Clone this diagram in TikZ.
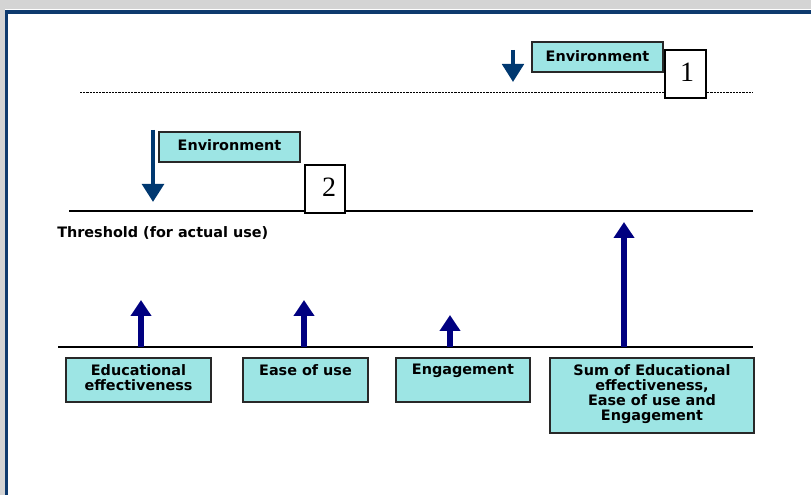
\documentclass[tikz,border=0pt]{standalone}
\usepackage{fontspec}
\setsansfont{DejaVu Sans}
\newfontfamily\numfont{Liberation Serif}
\usetikzlibrary{arrows.meta,fit}

\definecolor{boxfill}{RGB}{157,229,228}
\definecolor{envblue}{RGB}{0,56,112}
\definecolor{factorblue}{RGB}{0,0,128}
\definecolor{framegray}{RGB}{212,212,212}
\definecolor{frameblue}{RGB}{14,58,110}

\tikzset{
  labelbox/.style={draw={rgb,255:red,40;green,40;blue,40}, line width=0.8pt, fill=boxfill, inner sep=0pt},
  labeltext/.style={inner sep=0pt, align=center, font=\sffamily\bfseries\fontsize{10.8}{11.3}\selectfont},
  numbox/.style={draw=black, line width=1.1pt, fill=white, inner sep=0pt, font=\numfont\fontsize{21}{21}\selectfont},
  rule/.style={line width=1.6pt, black},
  dottedrule/.style={line width=1.4pt, black, dash pattern=on 1.6pt off 0.8pt},
  downarrow/.style={envblue, -{Triangle[length=13.5pt,width=16pt]}},
  uparrow/.style={factorblue, line width=3.8pt, -{Triangle[length=12pt,width=15pt]}}
}

\begin{document}
\begin{tikzpicture}[x=0.75pt,y=-0.75pt]
  \useasboundingbox (0,0) rectangle (811,495);

  % window frame
  \fill[framegray] (0,0) rectangle (811,9);
  \fill[framegray] (0,0) rectangle (5,495);
  \draw[frameblue, line width=2.6pt] (5,11.8) -- (811,11.8);
  \draw[frameblue, line width=2pt] (6.3,10) -- (6.3,495);

  % level lines
  \coordinate (dotL) at (80,92.5);
  \coordinate (dotR) at (753,92.5);
  \draw[dottedrule] (dotL) -- (dotR);

  \coordinate (thL) at (69,211);
  \coordinate (thR) at (753,211);
  \draw[rule] (thL) -- (thR);

  \coordinate (baseL) at (58,347);
  \coordinate (baseR) at (753,347);
  \draw[rule] (baseL) -- (baseR);

  \node[labeltext, anchor=west] (thlabel) at (57,233) {Threshold (for actual use)};

  % environment, case 1
  \node[labelbox, fit={(532,42) (663,72)}] (env1) {};
  \node[labeltext] (env1t) at ([yshift=1pt]env1.center) {Environment};
  \node[numbox, fit={(665,50) (706,98)}] (n1) {};
  \node[numbox, draw=none, fill=none] (n1t) at ([xshift=1.2pt,yshift=1.4pt]n1.center) {1};
  \coordinate (e1s) at (513,50);
  \coordinate (e1e) at (513,82);
  \draw[downarrow, line width=3pt] (e1s) -- (e1e);

  % environment, case 2
  \node[labelbox, fit={(159,132) (300,162)}] (env2) {};
  \node[labeltext] (env2t) at ([yshift=1.5pt]env2.center) {Environment};
  \node[numbox, fit={(305,165) (345,213)}] (n2) {};
  \node[numbox, draw=none, fill=none] (n2t) at ([xshift=3pt,yshift=1.4pt]n2.center) {2};
  \coordinate (e2s) at (153,130);
  \coordinate (e2e) at (153,202);
  \draw[downarrow, line width=3.6pt] (e2s) -- (e2e);

  % factor boxes
  \node[labelbox, fit={(66,358) (211,402)}] (b1) {};
  \node[labeltext, anchor=north] (b1t) at ([yshift=-5pt]b1.north) {Educational\\effectiveness};
  \node[labelbox, fit={(243,358) (368,402)}] (b2) {};
  \node[labeltext, anchor=north] (b2t) at ([yshift=-5pt]b2.north) {Ease of use};
  \node[labelbox, fit={(396,358) (530,402)}] (b3) {};
  \node[labeltext, anchor=north] (b3t) at ([yshift=-5pt]b3.north) {Engagement};
  \node[labelbox, fit={(550,358) (754,433)}] (b4) {};
  \node[labeltext, anchor=north] (b4t) at ([yshift=-5pt]b4.north) {Sum of Educational\\effectiveness,\\Ease of use and\\Engagement};

  % factor arrows
  \coordinate (a1s) at (141,347);  \coordinate (a1e) at (141,300);
  \coordinate (a2s) at (304,347);  \coordinate (a2e) at (304,300);
  \coordinate (a3s) at (450,347);  \coordinate (a3e) at (450,315);
  \coordinate (a4s) at (624,347);  \coordinate (a4e) at (624,222);
  \draw[uparrow] (a1s) -- (a1e);
  \draw[uparrow] (a2s) -- (a2e);
  \draw[uparrow] (a3s) -- (a3e);
  \draw[uparrow] (a4s) -- (a4e);
\end{tikzpicture}
\end{document}
